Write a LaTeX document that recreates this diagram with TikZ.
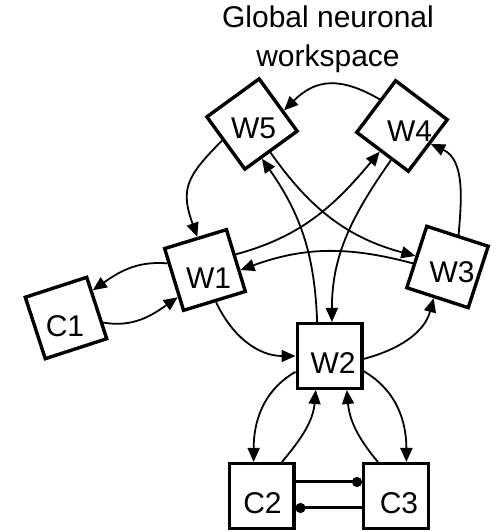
\documentclass[tikz,border=0pt]{standalone}
\usepackage{fontspec}
\setmainfont{Liberation Sans}
\usetikzlibrary{arrows.meta}
\begin{document}
\begin{tikzpicture}[x=1pt,y=1pt,
  wbox/.style={draw, line width=3.4pt, minimum size=64.6pt, inner sep=0pt, fill=white},
  lbl/.style={inner sep=0pt, font=\fontsize{30}{36}\selectfont},
  conn/.style={line width=1.8pt, -{Triangle[length=14pt,width=12pt]}},
  bar/.style={line width=3pt, -{Circle[length=10pt]}}
]
\useasboundingbox (0,0) rectangle (498,532);
% title
\node[lbl, anchor=base] (title1) at (328,504) {Global neuronal};
\node[lbl, anchor=base] (title2) at (328,465) {workspace};
% boxes
\node[wbox, rotate=36]  (W5) at (252,408) {};
\node[wbox, rotate=-37] (W4) at (402,406) {};
\node[wbox, rotate=17]  (W1) at (205,262) {};
\node[wbox, rotate=18]  (C1) at (66,214) {};
\node[wbox, rotate=-18] (W3) at (447.5,265) {};
\node[wbox]             (W2) at (329.5,176) {};
\node[wbox]             (C2) at (261.5,36) {};
\node[wbox]             (C3) at (396,36) {};
% labels
\node[lbl] (W5t) at (253.5,403.5) {W5};
\node[lbl] (W4t) at (409.5,401) {W4};
\node[lbl] (W1t) at (208.5,254) {W1};
\node[lbl] (C1t) at (65,206) {C1};
\node[lbl] (W3t) at (452,260) {W3};
\node[lbl] (W2t) at (333,169) {W2};
\node[lbl] (C2t) at (262.5,29) {C2};
\node[lbl] (C3t) at (399,29) {C3};
% connectors
\draw[conn] (W4.167) to[out=150,in=45,looseness=1.2] (W5.-13);
\draw[conn] (W5.173) to[out=225,in=110,looseness=1.3] (W1.86);
\draw[conn] (W5.-93) to[out=-55,in=165] (W3.179);
\draw[conn] (W2.110) to[out=92,in=-55] (W5.-110);
\draw[conn] (W4.-71) to[out=-125,in=90] (W2.86);
\draw[conn] (W1.10) to[out=15,in=-130] (W4.-94);
\draw[conn] (W3.192) to[out=165,in=20] (W1.-17);
\draw[conn] (W3.89) to[out=85,in=-25] (W4.5);
\draw[conn] (W1.153) to[out=175,in=35] (C1.28);
\draw[conn] (C1.-25) to[out=-10,in=-145] (W1.-152);
\draw[conn] (W1.-88) to[out=-65,in=180] (W2.180);
\draw[conn] (W2.-5) to[out=15,in=-105] (W3.-96);
\draw[conn] (W2.205) to[out=-150,in=90] (C2.103);
\draw[conn] (C2.59) to[out=50,in=-95] (W2.-112);
\draw[conn] (C3.118) to[out=130,in=-85] (W2.-63);
\draw[conn] (W2.-24) to[out=-30,in=90] (C3.73);
% C2 -- C3 bars
\draw[bar] ([yshift=14pt]C2.east) -- ([yshift=14pt]C3.west);
\draw[bar] ([yshift=-12pt]C3.west) -- ([yshift=-12pt]C2.east);
\end{tikzpicture}
\end{document}
